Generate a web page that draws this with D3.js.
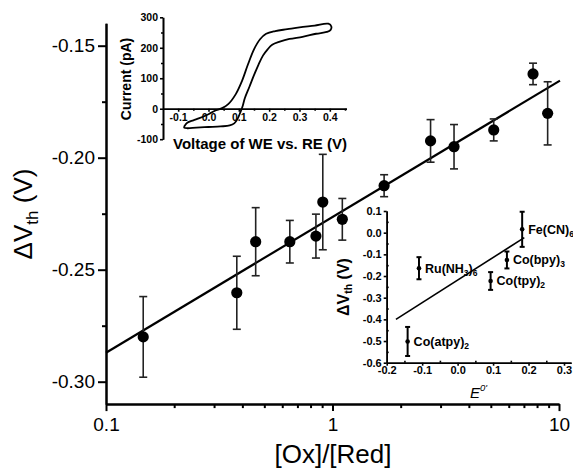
<!DOCTYPE html>
<html><head><meta charset="utf-8">
<script src="https://cdn.jsdelivr.net/npm/d3@7"></script>
<style>
html,body{margin:0;padding:0;background:#fff;}
svg{display:block;font-family:"Liberation Sans",Arial,sans-serif;}
</style></head>
<body>
<svg id="chart" width="573" height="468"></svg>
<script>
// ---- main chart data ----
const ratio = [0.146, 0.378, 0.458, 0.648, 0.845, 0.906, 1.105, 1.69, 2.71, 3.44, 5.15, 7.68, 8.91];
const dVth  = [-0.280, -0.2603, -0.2375, -0.2375, -0.235, -0.2198, -0.2275, -0.2125, -0.1925, -0.1951, -0.1876, -0.1626, -0.1802];
const dVerr = [0.018, 0.0163, 0.0152, 0.0095, 0.0098, 0.0213, 0.0093, 0.0049, 0.0095, 0.0099, 0.0049, 0.0048, 0.0141];
const fitX = [0.1, 10.1];
const fitY = [-0.2871, -0.1656];
const mainYTicks = [-0.30, -0.25, -0.20, -0.15];
const mainYMinor = [-0.275, -0.225, -0.175];
const mainXTicks = [0.1, 1, 10];
const mainXMinor = [0.2,0.3,0.4,0.5,0.6,0.7,0.8,0.9,2,3,4,5,6,7,8,9];

// ---- inset 1: cyclic voltammogram ----
const cvV = [-0.08,-0.07,-0.05,-0.03,0.0,0.025,0.045,0.065,0.09,0.11,0.13,0.15,0.17,0.19,0.22,0.26,0.30,0.35,0.395,0.405,0.402,
             0.39,0.355,0.31,0.267,0.235,0.21,0.195,0.18,0.165,0.15,0.135,0.12,0.113,0.105,0.095,0.085,0.07,0.04,0.0,-0.04,-0.07,-0.08,-0.08];
const cvI = [-58,-46,-38,-31,-18,-5,2,15,48,90,145,195,228,246,255,261,267,273,279,270,258,
             252,246,236,229,220,210,195,175,145,110,72,35,10,-12,-35,-48,-55,-58,-60,-62,-64,-62,-58];
const cvXTicks = [-0.1,0.0,0.1,0.2,0.3,0.4];
const cvXMinor = [-0.05,0.05,0.15,0.25,0.35,0.45];
const cvYTicks = [-100,0,100,200,300];
const cvYMinor = [-50,50,150,250];

// ---- inset 2: dVth vs E0' ----
const compounds = ["Co(atpy)2", "Ru(NH3)6", "Co(tpy)2", "Co(bpy)3", "Fe(CN)6"];
const e0 = [-0.141, -0.109, 0.093, 0.139, 0.182];
const dvE = [-0.502, -0.164, -0.223, -0.126, 0.0155];
const dvEerr = [0.067, 0.051, 0.041, 0.039, 0.081];
const fitE = [-0.174, 0.188];
const fitDV = [-0.400, -0.023];
const eXTicks = [-0.2,-0.1,0.0,0.1,0.2,0.3];
const eXMinor = [-0.15,-0.05,0.05,0.15,0.25];
const eYTicks = [-0.6,-0.5,-0.4,-0.3,-0.2,-0.1,0.0,0.1];
const eYMinor = [-0.55,-0.45,-0.35,-0.25,-0.15,-0.05,0.05];

const svg = d3.select("#chart");
svg.append("rect").attr("width",573).attr("height",468).attr("fill","#fff");

function styleAxis(g, w, fs, bold){
  g.select(".domain").attr("stroke","#000").attr("stroke-width",w);
  g.selectAll(".tick line").attr("stroke","#000").attr("stroke-width",w);
  g.selectAll("text").attr("fill","#000").attr("font-size",fs)
   .attr("font-family",'"Liberation Sans",Arial,sans-serif')
   .attr("font-weight",bold?"bold":"normal");
}

// ================= MAIN =================
const x = d3.scaleLog().domain([0.1, 10]).range([106, 559]);
const y = d3.scaleLinear().domain([-0.31, -0.14]).range([404.1, 23.3]);

const gyMinor = svg.append("g").attr("transform","translate(106,0)")
  .call(d3.axisLeft(y).tickValues(mainYMinor).tickSize(4).tickFormat("").tickSizeOuter(0));
styleAxis(gyMinor,2,19,false);
const gy = svg.append("g").attr("transform","translate(106,0)")
  .call(d3.axisLeft(y).tickValues(mainYTicks).tickSize(8).tickPadding(3).tickSizeOuter(0).tickFormat(d=>d.toFixed(2)));
styleAxis(gy,2,19,false);

const gxMinor = svg.append("g").attr("transform","translate(0,404.1)")
  .call(d3.axisBottom(x).tickValues(mainXMinor).tickSize(4).tickFormat("").tickSizeOuter(0));
styleAxis(gxMinor,2,19,false);
const gx = svg.append("g").attr("transform","translate(0,404.1)")
  .call(d3.axisBottom(x).tickValues(mainXTicks).tickSize(7).tickPadding(6).tickSizeOuter(0).tickFormat(d=>String(d)));
styleAxis(gx,2,19,false);

// fit line
svg.append("path").datum(fitX.map((v,i)=>[v,fitY[i]]))
  .attr("d", d3.line().x(d=>x(d[0])).y(d=>y(d[1])))
  .attr("fill","none").attr("stroke","#000").attr("stroke-width",2.2);

const mainPts = ratio.map((r,i)=>({r, v:dVth[i], e:dVerr[i]}));
const eb = svg.append("g").attr("stroke","#222").attr("stroke-width",1.6);
eb.selectAll(".v").data(mainPts).join("line")
  .attr("x1",d=>x(d.r)).attr("x2",d=>x(d.r)).attr("y1",d=>y(d.v-d.e)).attr("y2",d=>y(d.v+d.e));
eb.selectAll(".t").data(mainPts).join("line")
  .attr("x1",d=>x(d.r)-4).attr("x2",d=>x(d.r)+4).attr("y1",d=>y(d.v+d.e)).attr("y2",d=>y(d.v+d.e));
eb.selectAll(".b").data(mainPts).join("line")
  .attr("x1",d=>x(d.r)-4).attr("x2",d=>x(d.r)+4).attr("y1",d=>y(d.v-d.e)).attr("y2",d=>y(d.v-d.e));
svg.append("g").selectAll("circle").data(mainPts).join("circle")
  .attr("cx",d=>x(d.r)).attr("cy",d=>y(d.v)).attr("r",5.6).attr("fill","#000");

// main labels
svg.append("text").attr("x",333).attr("y",463).attr("text-anchor","middle")
  .attr("font-size",26).attr("fill","#000").text("[Ox]/[Red]");
const yl = svg.append("text").attr("transform","translate(32,214) rotate(-90)")
  .attr("text-anchor","middle").attr("font-size",26).attr("fill","#000");
yl.append("tspan").text("ΔV");
yl.append("tspan").attr("font-size",17).attr("dy",6).text("th");
yl.append("tspan").attr("dy",-6).text(" (V)");

// ================= INSET 1 =================
const xi = d3.scaleLinear().domain([-0.15, 0.455]).range([163, 346.5]);
const yi = d3.scaleLinear().domain([-100, 300]).range([139.2, 17.3]);

const i1yMinor = svg.append("g").attr("transform","translate(163,0)")
  .call(d3.axisLeft(yi).tickValues(cvYMinor).tickSize(2).tickFormat("").tickSizeOuter(0));
styleAxis(i1yMinor,1.6,10.5,true);
const i1y = svg.append("g").attr("transform","translate(163,0)")
  .call(d3.axisLeft(yi).tickValues(cvYTicks).tickSize(3).tickPadding(2).tickSizeOuter(0).tickFormat(d=>String(d)));
styleAxis(i1y,1.6,10.5,true);
const i1xMinor = svg.append("g").attr("transform",`translate(0,${yi(0)})`)
  .call(d3.axisBottom(xi).tickValues(cvXMinor).tickSize(2).tickFormat("").tickSizeOuter(0));
styleAxis(i1xMinor,1.6,10.5,true);
const i1x = svg.append("g").attr("transform",`translate(0,${yi(0)})`)
  .call(d3.axisBottom(xi).tickValues(cvXTicks).tickSize(3).tickPadding(2).tickSizeOuter(0).tickFormat(d=>d.toFixed(1)));
styleAxis(i1x,1.6,10.5,true);

svg.append("path").datum(cvV.map((v,i)=>[v,cvI[i]]))
  .attr("d", d3.line().curve(d3.curveCatmullRom).x(d=>xi(d[0])).y(d=>yi(d[1])))
  .attr("fill","none").attr("stroke","#000").attr("stroke-width",1.8);

svg.append("text").attr("x",260).attr("y",148.5).attr("text-anchor","middle")
  .attr("font-size",15).attr("font-weight","bold").attr("fill","#000").text("Voltage of WE vs. RE (V)");
svg.append("text").attr("transform","translate(131,79) rotate(-90)").attr("text-anchor","middle")
  .attr("font-size",14).attr("font-weight","bold").attr("fill","#000").text("Current (pA)");

// ================= INSET 2 =================
const xe = d3.scaleLinear().domain([-0.2, 0.32]).range([386.7, 571.1]);
const ye = d3.scaleLinear().domain([-0.6, 0.1]).range([362.7, 211]);

const i2yMinor = svg.append("g").attr("transform","translate(386.7,0)")
  .call(d3.axisRight(ye).tickValues(eYMinor).tickSize(2).tickFormat("").tickSizeOuter(0));
styleAxis(i2yMinor,1.6,11,true);
const i2y = svg.append("g").attr("transform","translate(386.7,0)")
  .call(d3.axisLeft(ye).tickValues(eYTicks).tickSize(3).tickPadding(2).tickSizeOuter(0).tickFormat(d=>d.toFixed(1)));
styleAxis(i2y,1.6,11,true);
const i2xMinor = svg.append("g").attr("transform","translate(0,362.7)")
  .call(d3.axisTop(xe).tickValues(eXMinor).tickSize(2).tickFormat("").tickSizeOuter(0));
styleAxis(i2xMinor,1.6,11,true);
const i2x = svg.append("g").attr("transform","translate(0,362.7)")
  .call(d3.axisBottom(xe).tickValues(eXTicks).tickSize(3).tickPadding(1).tickSizeOuter(0).tickFormat(d=>d.toFixed(1)));
styleAxis(i2x,1.6,11,true);

svg.append("path").datum(fitE.map((v,i)=>[v,fitDV[i]]))
  .attr("d", d3.line().x(d=>xe(d[0])).y(d=>ye(d[1])))
  .attr("fill","none").attr("stroke","#000").attr("stroke-width",1.6);

const insPts = compounds.map((c,i)=>({c, e:e0[i], v:dvE[i], err:dvEerr[i]}));
const eb2 = svg.append("g").attr("stroke","#000").attr("stroke-width",2);
eb2.selectAll(".v").data(insPts).join("line")
  .attr("x1",d=>xe(d.e)).attr("x2",d=>xe(d.e)).attr("y1",d=>ye(d.v-d.err)).attr("y2",d=>ye(d.v+d.err));
eb2.selectAll(".t").data(insPts).join("line")
  .attr("x1",d=>xe(d.e)-2.5).attr("x2",d=>xe(d.e)+2.5).attr("y1",d=>ye(d.v+d.err)).attr("y2",d=>ye(d.v+d.err));
eb2.selectAll(".b").data(insPts).join("line")
  .attr("x1",d=>xe(d.e)-2.5).attr("x2",d=>xe(d.e)+2.5).attr("y1",d=>ye(d.v-d.err)).attr("y2",d=>ye(d.v-d.err));
svg.append("g").selectAll("circle").data(insPts).join("circle")
  .attr("cx",d=>xe(d.e)).attr("cy",d=>ye(d.v)).attr("r",2.3).attr("fill","#000");

// compound labels with subscripts
insPts.forEach(d=>{
  const t = svg.append("text").attr("x",xe(d.e)+6).attr("y",ye(d.v)+4.5)
    .attr("font-size",12.5).attr("font-weight","bold").attr("fill","#000");
  const parts = d.c.split(/(\d)/).filter(s=>s.length);
  let sub=false;
  parts.forEach(p=>{
    if(/^\d$/.test(p)){
      t.append("tspan").attr("font-size",8.5).attr("dy",sub?0:3).text(p); sub=true;
    } else {
      t.append("tspan").attr("dy",sub?-3:0).text(p); sub=false;
    }
  });
});

const el = svg.append("text").attr("x",470).attr("y",398).attr("fill","#000");
el.append("tspan").attr("font-size",15).attr("font-style","italic").text("E");
el.append("tspan").attr("font-size",9.5).attr("font-style","italic").attr("dy",-7).text("0'");

const yl2 = svg.append("text").attr("transform","translate(349,287) rotate(-90)")
  .attr("text-anchor","middle").attr("font-size",16).attr("font-weight","bold").attr("fill","#000");
yl2.append("tspan").text("ΔV");
yl2.append("tspan").attr("font-size",10.5).attr("dy",3).text("th");
yl2.append("tspan").attr("dy",-3).text(" (V)");
</script>
</body></html>
